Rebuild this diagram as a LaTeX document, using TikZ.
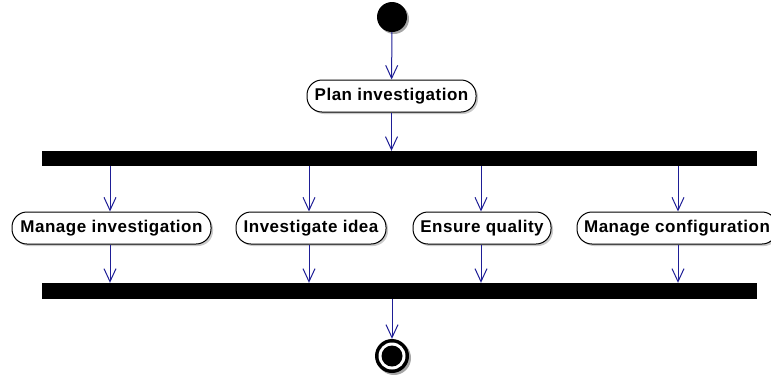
\documentclass[tikz,border=0pt]{standalone}
\usepackage{fontspec}
\setmainfont{Liberation Sans}
\usetikzlibrary{arrows.meta,shadows}
\definecolor{flow}{RGB}{30,30,150}
\tikzset{
  act/.style={draw=black, line width=1pt, fill=white, rounded corners=15pt, minimum height=32pt, inner sep=0pt,
    font=\bfseries\fontsize{17}{19}\selectfont\addfontfeatures{LetterSpace=3}, drop shadow={shadow xshift=2pt, shadow yshift=-2pt, fill=black!35, opacity=0.6}},
  bar/.style={fill=black, draw=none, minimum width=715pt, minimum height=15pt, inner sep=0pt},
  flowarrow/.style={draw=flow, line width=1pt, -{Straight Barb[length=13pt,width=12pt,line width=1pt]}},
}
\begin{document}
\begin{tikzpicture}[x=1pt,y=-1pt]
\useasboundingbox (0,0) rectangle (771,376);
\fill[black!35] (394,19) circle (15);
\node[circle, fill=black, minimum size=30pt, inner sep=0pt] (start) at (392,17) {};
\node[act, minimum width=169pt] (plan) at (391.5,96) {Plan investigation};
\node[bar] (fork) at (399.5,158.5) {};
\node[act, minimum width=199pt] (mi) at (111.5,228) {Manage investigation};
\node[act, minimum width=150pt] (ii) at (311,228) {Investigate idea};
\node[act, minimum width=138pt] (eq) at (482,228) {Ensure quality};
\node[act, minimum width=200pt] (mc) at (677,228) {Manage configuration};
\node[bar, minimum height=16pt] (join) at (399.5,291) {};
\fill[black!35] (394,358) circle (17);
\node[circle, fill=black, minimum size=34pt, inner sep=0pt] (end) at (392,356) {};
\fill[white] (end.center) circle (13.5);
\fill[black] (end.center) circle (10.5);
\draw[flowarrow] (start) -- (plan);
\draw[flowarrow] (plan.south) -- (fork.north -| plan.south);
\coordinate (f1) at (110,166);
\coordinate (f2) at (309,166);
\coordinate (f3) at (481,166);
\coordinate (f4) at (678,166);
\draw[flowarrow] (f1) -- (f1 |- mi.north);
\draw[flowarrow] (f2) -- (f2 |- ii.north);
\draw[flowarrow] (f3) -- (f3 |- eq.north);
\draw[flowarrow] (f4) -- (f4 |- mc.north);
\draw[flowarrow] (mi.south -| f1) -- (f1 |- join.north);
\draw[flowarrow] (ii.south -| f2) -- (f2 |- join.north);
\draw[flowarrow] (eq.south -| f3) -- (f3 |- join.north);
\draw[flowarrow] (mc.south -| f4) -- (f4 |- join.north);
\draw[flowarrow] (join.south -| end) -- (end);
\end{tikzpicture}
\end{document}
